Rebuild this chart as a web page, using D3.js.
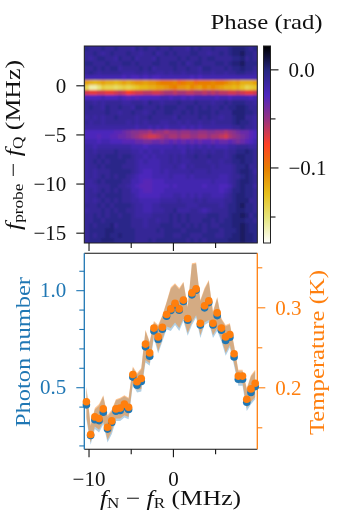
<!DOCTYPE html>
<html>
<head>
<meta charset="utf-8">
<script src="https://cdn.jsdelivr.net/npm/d3@7"></script>
<style>
  html, body { margin: 0; padding: 0; background: #fff; }
  svg { display: block; filter: blur(0.4px); }
  text { font-family: "Liberation Serif", "DejaVu Serif", serif; }
</style>
</head>
<body>
<svg id="chart" width="338" height="512"></svg>
<script>
// phase map, one string per probe row from the top, one character per drive column
// each character is a level: 0 = +0.010 rad, and every next one is 0.005 rad lower
const phaseRows = [
  "34443443444534344344344453434434443222343",
  "44345434443445443543434443344544343221334",
  "45433445344354445344443434434334444332434",
  "33444344433434443344334354334443343221333",
  "44343433544443435444434434453344434332334",
  "43454444455544544554544544454454454433445",
  "66666666676776767766666667676666666666666",
  "pqrqpqqrqpqpoopoonmmmnlmnnlmmmnmmnopoqqqp",
  "uyywtuuvututsrrqqpponmoopnopnonopqqrqsuts",
  "fggffggfefhgffeeffeddeddeeddededeeffefggf",
  "77776777678787777766766767666667667666676",
  "44545444455444534454443444344454434333445",
  "43445344344533444343334433434344343322344",
  "44444344544344543443344343433343444222334",
  "54545443444454434444453444434344544322445",
  "45445444445454544455445454454454444323345",
  "55555555555565565656555656565555555443445",
  "7777777889abbccdbccdccbccbbccbbccdcba9987",
  "7778778899abcdeffedcddcddccddcddefdcba987",
  "66676677788899aa99a98989898988989989a9876",
  "55655555555666766666656656565656665544455",
  "54544443444556565565555645445454454433234",
  "54434333433455656555454544344344454322334",
  "54343433334456566655454554444544544332334",
  "54434333344456666655545645444454555433244",
  "54544433333456776656555554555455555432235",
  "54543434334567776666566656555555665443234",
  "55434333344667887776666666666656665432234",
  "55544433445678887777676666667666776432335",
  "54543434344667887776666666666666765332334",
  "54434333344567777766655656565566654322334",
  "54543434344556666655554555454555544322244",
  "44434343333455665544444455544444543321334",
  "54443434334455665554435554456544443322334",
  "44343433433455554444343434444333443221243",
  "44334333333444544544343434443343433222334",
  "43433324333444544433344343434344333221233",
  "43333223333344444343333433334333433321233",
  "43433233233344444443344334443334433221223",
  "43332223333344434333333343434333332221223"
];
const phaseLevels = "0123456789abcdefghijklmnopqrstuvwxyz";

// drive detuning of each measured point (MHz)
const detuning = [-10.25, -9.75, -9.25, -8.75, -8.25, -7.75, -7.25, -6.75, -6.25, -5.75, -5.25, -4.75, -4.25, -3.75, -3.25, -2.75, -2.25, -1.75, -1.25, -0.75, -0.25, 0.25, 0.75, 1.25, 1.75, 2.25, 2.75, 3.25, 3.75, 4.25, 4.75, 5.25, 5.75, 6.25, 6.75, 7.25, 7.75, 8.25, 8.75, 9.25, 9.75];

const photon = [.409, .251, .332, .328, .371, .284, .318, .376, .380, .399, .385, .552, .510, .529, .708, .660, .790, .746, .799, .866, .895, .921, .897, .942, .845, .976, 1.000, .820, .909, .936, .821, .869, .794, .741, .758, .656, .541, .541, .423, .473, .503];
const photonHigh = [.497, .299, .385, .405, .454, .347, .376, .433, .440, .454, .440, .600, .565, .591, .789, .729, .835, .814, .866, .935, 1.007, 1.029, 1.003, 1.038, .909, 1.132, 1.137, .943, 1.003, 1.046, .883, .960, .849, .814, .823, .711, .582, .582, .488, .557, .582];
const photonLow = [.335, .203, .284, .266, .309, .215, .258, .326, .326, .344, .335, .512, .473, .478, .627, .610, .753, .674, .735, .799, .790, .821, .790, .842, .765, .821, .859, .753, .821, .833, .753, .790, .735, .662, .704, .610, .507, .507, .378, .412, .438];

const temperature = [.182, .141, .163, .161, .173, .150, .158, .173, .174, .179, .175, .216, .207, .211, .254, .243, .274, .263, .275, .291, .298, .305, .298, .309, .286, .318, .323, .280, .302, .308, .280, .293, .274, .263, .266, .242, .214, .214, .185, .198, .205];
const temperatureHigh = [.201, .153, .174, .179, .190, .165, .172, .185, .187, .190, .187, .226, .218, .224, .272, .257, .283, .278, .290, .307, .325, .330, .324, .332, .301, .355, .356, .309, .324, .334, .295, .313, .286, .278, .280, .253, .222, .222, .199, .215, .222];
const temperatureLow = [.163, .131, .151, .147, .157, .134, .145, .161, .161, .165, .163, .206, .197, .198, .234, .230, .265, .245, .260, .276, .274, .281, .274, .286, .268, .281, .290, .265, .281, .284, .265, .274, .260, .243, .253, .230, .205, .205, .174, .182, .188];

// CMRmap
const cmrColors = ['#000000', '#262680', '#4d26bf', '#993380', '#ff4026', '#e68000', '#e6bf1a', '#e6e680', '#ffffff'];
const phaseMax = 0.0238, phaseMin = -0.177;

const blue = '#1f77b4', orange = '#ff7f0e';
const left = 84.3, right = 257.3;
const heatTop = 46, heatBottom = 243;
const lineTop = 253.3, lineBottom = 449.3;
const barLeft = 263.5, barRight = 270.5;
const fontSize = 21;

const svg = d3.select('#chart');
const defs = svg.append('defs');

const xScale = d3.scaleLinear().domain([-10.5, 10]).range([left, right]);
const probeScale = d3.scaleLinear().domain([4, -16.05]).range([heatTop, heatBottom]);
const phaseScale = d3.scaleLinear().domain([phaseMax, phaseMin]).range([heatTop, heatBottom]);
const photonScale = d3.scaleLinear().domain([1.19, 0.18]).range([lineTop, lineBottom]);
const tempScale = d3.scaleLinear().domain([0.3675, 0.1225]).range([lineTop, lineBottom]);

const colorScale = d3.scaleLinear()
    .domain(cmrColors.map((c, i) => phaseMax + (phaseMin - phaseMax) * i / 8))
    .range(cmrColors);

// flatten the strings into cells
const cells = [];
phaseRows.forEach((row, r) => {
    for (let c = 0; c < row.length; c++) {
        cells.push({
            x: -10.5 + c * 0.5,
            y: 4 - r * 0.5,
            phase: 0.01 - 0.005 * phaseLevels.indexOf(row[c])
        });
    }
});

// the reference map is soft, so blur the cells a little inside the frame
defs.append('filter').attr('id', 'soft')
    .attr('x', '-5%').attr('y', '-5%').attr('width', '110%').attr('height', '110%')
    .append('feGaussianBlur').attr('stdDeviation', 0.8);
defs.append('clipPath').attr('id', 'heatClip')
    .append('rect')
    .attr('x', left).attr('y', heatTop)
    .attr('width', right - left).attr('height', heatBottom - heatTop);

svg.append('rect')
    .attr('x', left).attr('y', heatTop)
    .attr('width', right - left).attr('height', heatBottom - heatTop)
    .attr('fill', colorScale(-0.01));

svg.append('g').attr('clip-path', 'url(#heatClip)')
    .append('g').attr('filter', 'url(#soft)')
    .selectAll('rect')
    .data(cells)
    .join('rect')
    .attr('x', d => xScale(d.x))
    .attr('y', d => probeScale(d.y))
    .attr('width', xScale(0.5) - xScale(0) + 0.5)
    .attr('height', probeScale(0) - probeScale(0.5) + 0.5)
    .attr('shape-rendering', 'crispEdges')
    .attr('fill', d => colorScale(d.phase));

// colorbar
const gradient = defs.append('linearGradient')
    .attr('id', 'cmr').attr('x1', 0).attr('x2', 0).attr('y1', 0).attr('y2', 1);
gradient.selectAll('stop')
    .data(cmrColors)
    .join('stop')
    .attr('offset', (d, i) => i / 8)
    .attr('stop-color', d => d);

svg.append('rect')
    .attr('x', barLeft).attr('y', heatTop)
    .attr('width', barRight - barLeft).attr('height', heatBottom - heatTop)
    .attr('fill', 'url(#cmr)')
    .attr('stroke', '#222').attr('stroke-width', 1);

svg.append('rect')
    .attr('x', left).attr('y', heatTop)
    .attr('width', right - left).attr('height', heatBottom - heatTop)
    .attr('fill', 'none')
    .attr('stroke', '#222').attr('stroke-width', 1);

// draw one axis with its major labels and unlabelled minor ticks
function drawAxis(axisFn, scale, pos, major, minor, fmt, color) {
    const transform = axisFn === d3.axisBottom ? `translate(0,${pos})` : `translate(${pos},0)`;
    const g = svg.append('g').attr('transform', transform);
    g.call(axisFn(scale).tickValues(major).tickSize(8).tickSizeOuter(0).tickPadding(axisFn === d3.axisBottom ? 14 : 10)
        .tickFormat(fmt || ''));
    g.select('.domain').remove();
    const m = svg.append('g').attr('transform', transform);
    m.call(axisFn(scale).tickValues(minor).tickSize(5).tickSizeOuter(0).tickFormat(''));
    m.select('.domain').remove();
    g.selectAll('line').attr('stroke', color).attr('stroke-width', 1.1);
    m.selectAll('line').attr('stroke', color).attr('stroke-width', 1.1);
    g.selectAll('text').attr('font-size', fontSize).attr('fill', color)
        .style('font-family', '"Liberation Serif", serif');
    return g;
}

drawAxis(d3.axisLeft, probeScale, left, [0, -5, -10, -15], [], d3.format('d'), '#111');
drawAxis(d3.axisBottom, xScale, heatBottom, [-10, 0], [-5, 5], null, '#111');
drawAxis(d3.axisRight, phaseScale, barRight, [0, -0.1], [-0.05, -0.15], d3.format('.1f'), '#111');

// lower panel frame
svg.append('line').attr('x1', left).attr('x2', right).attr('y1', lineTop).attr('y2', lineTop).attr('stroke', '#111').attr('stroke-width', 1.1);
svg.append('line').attr('x1', left).attr('x2', right).attr('y1', lineBottom).attr('y2', lineBottom).attr('stroke', '#111').attr('stroke-width', 1.1);
svg.append('line').attr('x1', left).attr('x2', left).attr('y1', lineTop).attr('y2', lineBottom).attr('stroke', blue).attr('stroke-width', 1.3);
svg.append('line').attr('x1', right).attr('x2', right).attr('y1', lineTop).attr('y2', lineBottom).attr('stroke', orange).attr('stroke-width', 1.3);

drawAxis(d3.axisLeft, photonScale, left, [0.5, 1.0], [0.2, 0.3, 0.4, 0.6, 0.7, 0.8, 0.9, 1.1], d3.format('.1f'), blue);
drawAxis(d3.axisRight, tempScale, right, [0.2, 0.3], [0.15, 0.25, 0.35], d3.format('.1f'), orange);
drawAxis(d3.axisBottom, xScale, lineBottom, [-10, 0], [-5, 5], d3.format('d'), '#111');

// error bands
const photonArea = d3.area()
    .x((d, i) => xScale(detuning[i]))
    .y0((d, i) => photonScale(photonLow[i]))
    .y1((d, i) => photonScale(photonHigh[i]));
const tempArea = d3.area()
    .x((d, i) => xScale(detuning[i]))
    .y0((d, i) => tempScale(temperatureLow[i]))
    .y1((d, i) => tempScale(temperatureHigh[i]));

svg.append('path').datum(photon).attr('d', photonArea).attr('fill', blue).attr('opacity', 0.35);
svg.append('path').datum(temperature).attr('d', tempArea).attr('fill', orange).attr('opacity', 0.45);

svg.append('g').selectAll('circle')
    .data(photon)
    .join('circle')
    .attr('cx', (d, i) => xScale(detuning[i]))
    .attr('cy', d => photonScale(d))
    .attr('r', 3.8)
    .attr('fill', blue);

svg.append('g').selectAll('circle')
    .data(temperature)
    .join('circle')
    .attr('cx', (d, i) => xScale(detuning[i]))
    .attr('cy', d => tempScale(d))
    .attr('r', 3.8)
    .attr('fill', orange);

// labels with italics and subscripts, parts are [text, style]
function mathLabel(x, y, rotate, parts, color, length) {
    const t = svg.append('text')
        .attr('transform', `translate(${x},${y}) rotate(${rotate})`)
        .attr('text-anchor', 'middle')
        .attr('font-size', fontSize)
        .attr('textLength', length)
        .attr('lengthAdjust', 'spacingAndGlyphs')
        .attr('fill', color);
    let sub = false;
    parts.forEach(([s, style]) => {
        const span = t.append('tspan').text(s);
        if (style === 'i') span.attr('font-style', 'italic');
        if (style === 'sub') {
            span.attr('font-size', 14).attr('dy', 3);
            sub = true;
        } else if (sub) {
            span.attr('dy', -3);
            sub = false;
        }
    });
    return t;
}

mathLabel(266.5, 29, 0, [['Phase (rad)']], '#111', 112);
mathLabel(20, 145, -90, [['f', 'i'], ['probe', 'sub'], [' − '], ['f', 'i'], ['Q', 'sub'], [' (MHz)']], '#111', 170);
mathLabel(30, 352, -90, [['Photon number']], blue, 150);
mathLabel(323.5, 352.5, -90, [['Temperature (K)']], orange, 165);
mathLabel(170.5, 505, 0, [['f', 'i'], ['N', 'sub'], [' − '], ['f', 'i'], ['R', 'sub'], [' (MHz)']], '#111', 141);
</script>
</body>
</html>
